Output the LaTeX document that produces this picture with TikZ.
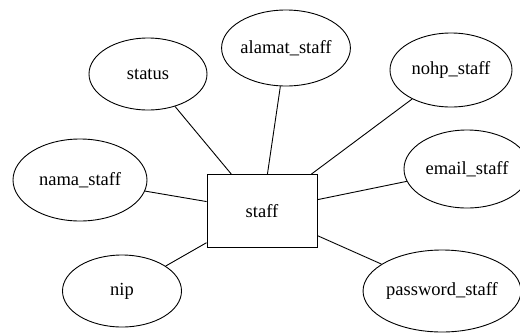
\documentclass[tikz,border=0pt]{standalone}
\usepackage{fontspec}
\setmainfont{Liberation Serif}
\usetikzlibrary{shapes.geometric}

\tikzset{
	attr/.style={draw,ellipse,line width=0.9pt,inner sep=0pt,font=\fontsize{18.5}{20}\selectfont},
	entity/.style={draw,rectangle,line width=0.9pt,inner sep=0pt,minimum width=110pt,minimum height=73pt,font=\fontsize{18.5}{20}\selectfont},
	link/.style={line width=0.9pt}
}

\begin{document}
\begin{tikzpicture}[x=1pt,y=-1pt]
	\useasboundingbox (0,0) rectangle (520,333) ;
	\node[entity] (staff) at (262,211) {staff} ;
	\node[attr,minimum width=118pt,minimum height=72pt] (status) at (148,74) {status} ;
	\node[attr,minimum width=128pt,minimum height=76pt] (alamat) at (286,48) {alamat\_staff} ;
	\node[attr,minimum width=122pt,minimum height=74pt] (nohp) at (451,70) {nohp\_staff} ;
	\node[attr,minimum width=134pt,minimum height=82pt] (nama) at (80,180) {nama\_staff} ;
	\node[attr,minimum width=126pt,minimum height=78pt] (email) at (467,169) {email\_staff} ;
	\node[attr,minimum width=119pt,minimum height=72pt] (nip) at (122,291) {nip} ;
	\node[attr,minimum width=151pt,minimum height=82pt] (password) at (442,291) {password\_staff} ;
	\draw[link] (status) -- (staff) ;
	\draw[link] (alamat) -- (staff) ;
	\draw[link] (nohp) -- (staff) ;
	\draw[link] (nama) -- (staff) ;
	\draw[link] (email) -- (staff) ;
	\draw[link] (nip) -- (staff) ;
	\draw[link] (password) -- (staff) ;
\end{tikzpicture}
\end{document}
